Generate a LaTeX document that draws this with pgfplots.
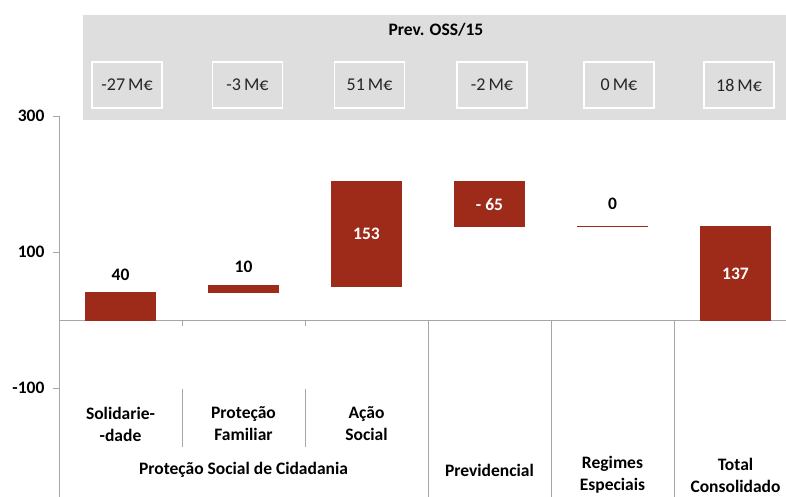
\documentclass[border=0pt]{standalone}
\usepackage{pgfplots}
\pgfplotsset{compat=1.18}
\usepackage{fontspec}
\setmainfont{Carlito}
\definecolor{barred}{HTML}{9E2A1A}
\definecolor{hdrgray}{HTML}{DEDEDE}
\definecolor{axgray}{HTML}{A6A6A6}
\newcommand{\lbl}{\fontsize{17.5}{22}\selectfont}
\begin{document}
\begin{tikzpicture}[font=\lbl]
\useasboundingbox (-59pt,0pt) rectangle (727pt,497pt);
% header panel
\fill[hdrgray] (24pt,377pt) rectangle (727pt,482pt);
\node[font=\bfseries\lbl] at (377pt,467pt) {Prev. OSS/15};
\foreach \x/\t in {68/-27,188.5/-3,310.5/51,433/-2,560/0,680/18} {
  \node[draw=white, line width=1.5pt, fill=hdrgray, minimum width=70pt,
        minimum height=46pt, inner sep=0pt, text=black!85,
        font=\fontsize{18}{22}\selectfont] at (\x pt,412pt) {\t\,M€};
}
\begin{axis}[
  at={(0pt,0pt)}, anchor=south west,
  scale only axis, width=727pt, height=381pt,
  xmin=-0.5, xmax=5.4106, ymin=-260, ymax=300,
  axis x line=middle, axis y line=left,
  axis line style={axgray, line width=0.8pt, -},
  ytick={-100,100,300}, xtick=\empty,
  tick style={axgray, line width=0.8pt},
  major tick length=6pt,
  tick align=outside,
  yticklabel style={font=\bfseries\lbl, xshift=-5pt},
  /pgf/number format/assume math mode=true,
  ybar stacked, bar width=0.57,
  clip=false,
]
% invisible base of the waterfall
\addplot[draw=none, fill=none, forget plot] coordinates {
  (0,0) (1,40) (2,50) (3,138) (4,138) (5,0)
};
% visible steps
\addplot[fill=barred, draw=barred, line width=1.2pt] coordinates {
  (0,40) (1,10) (2,153) (3,65) (4,0.001) (5,137)
};
% anchors for value labels
\coordinate (v0) at (axis cs:0,66);
\coordinate (v1) at (axis cs:1,78);
\coordinate (v2) at (axis cs:2,126.5);
\coordinate (v3) at (axis cs:3,170.5);
\coordinate (v4) at (axis cs:4,170.6);
\coordinate (v5) at (axis cs:5,68.5);
% separators
\pgfplotsinvokeforeach{0.5,1.5}{
  \draw[axgray, line width=0.8pt] (axis cs:#1,0) -- (axis cs:#1,-9);
  \draw[axgray, line width=0.8pt] (axis cs:#1,-101) -- (axis cs:#1,-187);
}
\pgfplotsinvokeforeach{2.5,3.5,4.5}{
  \draw[axgray, line width=0.8pt] (axis cs:#1,0) -- (axis cs:#1,-260);
}
% category labels
\node[font=\bfseries\lbl, align=center] at (axis cs:0,-152.7) {Solidarie-\\-dade};
\node[font=\bfseries\lbl, align=center] at (axis cs:1,-152.7) {Proteção\\Familiar};
\node[font=\bfseries\lbl, align=center] at (axis cs:2,-152.7) {Ação\\Social};
\node[font=\bfseries\lbl] at (axis cs:1,-220.3) {Proteção Social de Cidadania};
\node[font=\bfseries\lbl] at (axis cs:3,-220.3) {Previdencial};
\node[font=\bfseries\lbl, align=center] at (axis cs:4,-228) {Regimes\\Especiais};
\node[font=\bfseries\lbl, align=center] at (axis cs:5,-228) {Total\\Consolidado};
\end{axis}
\node[font=\bfseries\lbl] at (v0) {40};
\node[font=\bfseries\lbl] at (v1) {10};
\node[font=\bfseries\lbl, text=white] at (v2) {153};
\node[font=\bfseries\lbl, text=white] at (v3) {- 65};
\node[font=\bfseries\lbl] at (v4) {0};
\node[font=\bfseries\lbl, text=white] at (v5) {137};
\end{tikzpicture}
\end{document}
